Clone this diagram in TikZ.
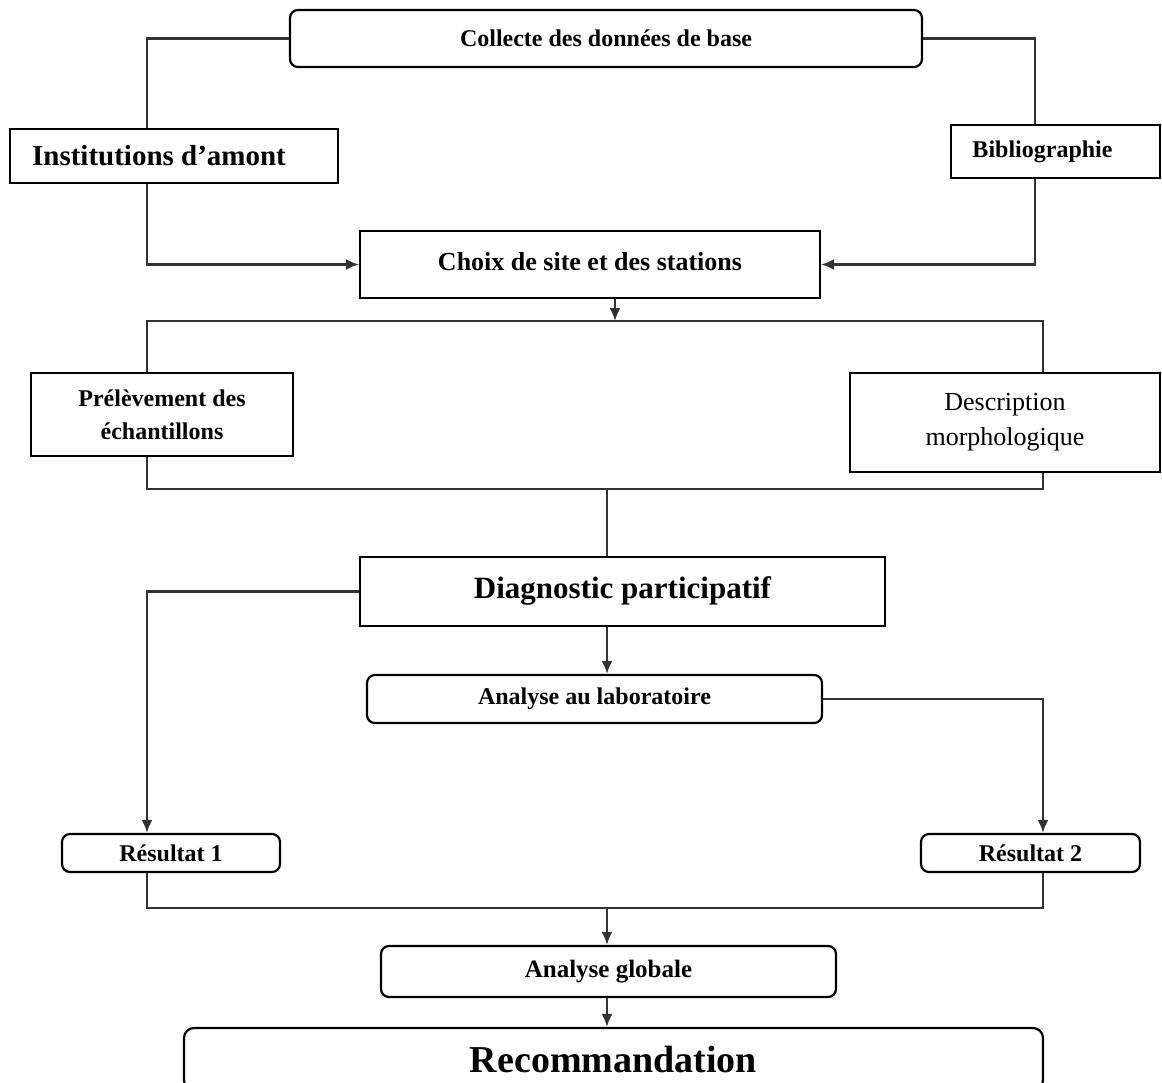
\documentclass[tikz,border=0pt]{standalone}
\usepackage{fontspec}
\setmainfont{Liberation Serif}
\usetikzlibrary{arrows.meta}

\begin{document}
\begin{tikzpicture}[x=1pt,y=-1pt,
  plainbox/.style={draw, line width=2.2pt, inner sep=2pt, align=center},
  roundbox/.style={plainbox, rounded corners=8pt},
  link/.style={draw, line width=2.2pt, black!80},
  arrow/.style={link, -{Latex[length=13pt,width=11pt]}}]
  \useasboundingbox (0,0) rectangle (1162,1082);
  \clip (0,0) rectangle (1162,1082);
  % columns of the connectors
  \coordinate (lcol) at (147,0);
  \coordinate (rcol) at (1043,0);
  \coordinate (bcol) at (1035,0);
  \coordinate (mcol) at (607,0);
  \coordinate (bus1) at (615,321);
  \coordinate (bus2) at (607,489);
  \coordinate (bus3) at (607,908);

  \node[roundbox, minimum width=632pt, minimum height=57pt,
    font=\fontsize{24}{28}\selectfont\bfseries] (coll) at (606,38.5)
    {Collecte des données de base};
  \node[plainbox, minimum width=328pt, minimum height=54pt,
    font=\fontsize{29}{33}\selectfont\bfseries] (inst) at (174,156)
    {Institutions d’amont\hspace{30pt}};
  \node[plainbox, minimum width=209pt, minimum height=53pt,
    font=\fontsize{24}{28}\selectfont\bfseries] (bib) at (1055.5,151.5)
    {Bibliographie\hspace{26pt}};
  \node[plainbox, minimum width=460pt, minimum height=67pt,
    font=\fontsize{26}{30}\selectfont\bfseries] (choix) at (590,264.5)
    {\raisebox{6pt}{Choix de site et des stations}};
  \node[plainbox, minimum width=262pt, minimum height=83pt,
    font=\fontsize{24}{33}\selectfont\bfseries] (prel) at (162,414.5)
    {Prélèvement des\\échantillons};
  \node[plainbox, minimum width=310pt, minimum height=99pt,
    font=\fontsize{26}{35}\selectfont] (desc) at (1005,422.5)
    {Description\\morphologique};
  \node[plainbox, minimum width=525pt, minimum height=69pt,
    font=\fontsize{31}{36}\selectfont\bfseries] (diag) at (622.5,591.5)
    {\raisebox{7pt}{Diagnostic participatif}};
  \node[roundbox, minimum width=455pt, minimum height=48pt,
    font=\fontsize{24}{28}\selectfont\bfseries] (lab) at (594.5,699)
    {\raisebox{5pt}{Analyse au laboratoire}};
  \node[roundbox, minimum width=218pt, minimum height=38pt,
    font=\fontsize{24}{28}\selectfont\bfseries] (res1) at (171,853)
    {Résultat 1};
  \node[roundbox, minimum width=219pt, minimum height=38pt,
    font=\fontsize{24}{28}\selectfont\bfseries] (res2) at (1030.5,853)
    {Résultat 2};
  \node[roundbox, minimum width=455pt, minimum height=51pt,
    font=\fontsize{25}{28}\selectfont\bfseries] (glob) at (608.5,971.5)
    {\raisebox{3pt}{Analyse globale}};
  \node[roundbox, rounded corners=10pt, minimum width=859pt, minimum height=62pt,
    font=\fontsize{38}{42}\selectfont\bfseries] (reco) at (613.5,1059)
    {Recommandation};

  % connectors
  \draw[link] (coll.west) -| (lcol |- inst.north);
  \draw[link] (coll.east) -| (bcol |- bib.north);
  \draw[arrow] (lcol |- inst.south) |- (choix.west);
  \draw[arrow] (bcol |- bib.south) |- (choix.east);
  \draw[arrow] (choix.south -| bus1) -- (bus1);
  \draw[link] (lcol |- prel.north) |- (bus1) -| (rcol |- desc.north);
  \draw[link] (lcol |- prel.south) |- (bus2) -| (rcol |- desc.south);
  \draw[link] (bus2) -- (bus2 |- diag.north);
  \draw[arrow] (diag.west) -| (lcol |- res1.north);
  \draw[arrow] (mcol |- diag.south) -- (mcol |- lab.north);
  \draw[arrow] (lab.east) -| (rcol |- res2.north);
  \draw[link] (lcol |- res1.south) |- (bus3) -| (rcol |- res2.south);
  \draw[arrow] (bus3) -- (bus3 |- glob.north);
  \draw[arrow] (mcol |- glob.south) -- (mcol |- reco.north);
\end{tikzpicture}
\end{document}
